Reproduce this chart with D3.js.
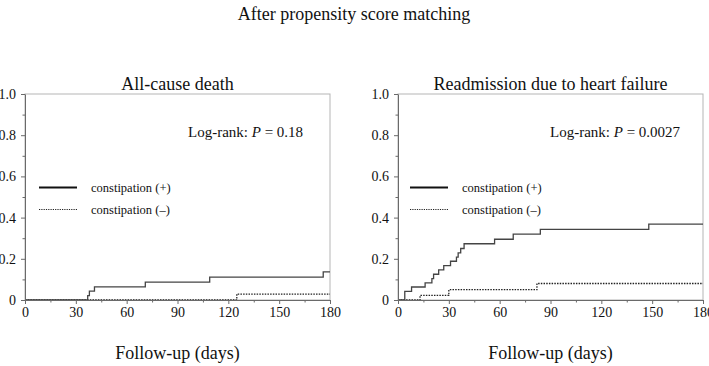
<!DOCTYPE html>
<html lang="en">
<head>
<meta charset="UTF-8">
<title>Cumulative incidence after propensity score matching</title>
<script src="https://d3js.org/d3.v7.min.js"></script>
<style>
    body { margin: 0; background: #fff; }
    svg text { font-family: "Liberation Serif", "Times New Roman", serif; fill: #111; }
    .domain-frame { fill: none; stroke: #b5b5b5; stroke-width: 1px; }
    .axis path, .axis line { stroke: #6a6a6a; }
    .axis text { font-size: 14px; font-family: "Liberation Serif", serif; fill: #111; }
</style>
</head>
<body>
<div id="chart"></div>
<script>
    // x: follow-up days, y: cumulative incidence (step functions)
    const xTicks = [0, 30, 60, 90, 120, 150, 180];
    const yTicks = [0, 0.2, 0.4, 0.6, 0.8, 1.0];

    const deathPlusDays = [0, 37, 38, 41, 71, 109, 176, 180];
    const deathPlusRisk = [0, 0.021, 0.043, 0.064, 0.087, 0.111, 0.137, 0.137];
    const deathMinusDays = [0, 125, 180];
    const deathMinusRisk = [0, 0.029, 0.029];

    const hfPlusDays = [0, 4, 8, 16, 20, 21, 24, 27, 31, 34.5, 35.5, 37, 39, 57, 68, 84, 148, 180];
    const hfPlusRisk = [0, 0.042, 0.063, 0.083, 0.104, 0.125, 0.146, 0.167, 0.188, 0.208, 0.229, 0.25, 0.273, 0.295, 0.32, 0.343, 0.368, 0.368];
    const hfMinusDays = [0, 13, 30, 82, 180];
    const hfMinusRisk = [0, 0.022, 0.05, 0.08, 0.08];

    const panels = [
        { title: "All-cause death", p: "0.18", left: 25, plus: [deathPlusDays, deathPlusRisk], minus: [deathMinusDays, deathMinusRisk], legendX: 39, pX: 188 },
        { title: "Readmission due to heart failure", p: "0.0027", left: 398, plus: [hfPlusDays, hfPlusRisk], minus: [hfMinusDays, hfMinusRisk], legendX: 410, pX: 550 }
    ];

    const width = 709;
    const height = 366;
    const plotW = 305;
    const plotTop = 94;
    const plotBottom = 300;

    const svg = d3.select("#chart")
        .append("svg")
        .attr("width", width)
        .attr("height", height);

    svg.append("text")
        .attr("x", 354)
        .attr("y", 20)
        .attr("text-anchor", "middle")
        .style("font-size", "18px")
        .text("After propensity score matching");

    const yScale = d3.scaleLinear().domain([0, 1]).range([plotBottom, plotTop]);

    panels.forEach(panel => {
        const xScale = d3.scaleLinear().domain([0, 180]).range([panel.left, panel.left + plotW]);
        const g = svg.append("g");

        g.append("text")
            .attr("x", panel.left + plotW / 2)
            .attr("y", 90)
            .attr("text-anchor", "middle")
            .style("font-size", "18px")
            .text(panel.title);

        // light frame on top / right
        g.append("rect")
            .attr("class", "domain-frame")
            .attr("x", panel.left)
            .attr("y", plotTop)
            .attr("width", plotW)
            .attr("height", plotBottom - plotTop);

        const line = d3.line()
            .x(d => xScale(d[0]))
            .y(d => yScale(d[1]))
            .curve(d3.curveStepAfter);

        g.append("path")
            .datum(panel.minus[0].map((d, i) => [d, panel.minus[1][i]]))
            .attr("fill", "none")
            .attr("stroke", "#222")
            .attr("stroke-width", 1.3)
            .attr("stroke-dasharray", "1.5,1.2")
            .attr("d", line);

        g.append("path")
            .datum(panel.plus[0].map((d, i) => [d, panel.plus[1][i]]))
            .attr("fill", "none")
            .attr("stroke", "#444")
            .attr("stroke-width", 1.3)
            .attr("d", line);

        // minor ticks
        g.append("g")
            .attr("class", "axis")
            .attr("transform", `translate(0,${plotBottom})`)
            .call(d3.axisBottom(xScale).tickValues(d3.range(15, 180, 30)).tickSize(2.5).tickFormat(""))
            .call(a => a.select(".domain").remove());
        g.append("g")
            .attr("class", "axis")
            .attr("transform", `translate(${panel.left},0)`)
            .call(d3.axisLeft(yScale).tickValues(d3.range(0.1, 1, 0.2)).tickSize(2.5).tickFormat(""))
            .call(a => a.select(".domain").remove());

        // major axes, drawn over the curves' zero baseline
        g.append("g")
            .attr("class", "axis")
            .attr("transform", `translate(0,${plotBottom})`)
            .call(d3.axisBottom(xScale).tickValues(xTicks).tickSize(4).tickPadding(3).tickSizeOuter(0))
            .attr("font-size", null).attr("font-family", null);
        g.append("g")
            .attr("class", "axis")
            .attr("transform", `translate(${panel.left},0)`)
            .call(d3.axisLeft(yScale).tickValues(yTicks).tickSize(4).tickPadding(5).tickSizeOuter(0)
                .tickFormat(d => d === 0 ? "0" : d3.format(".1f")(d)))
            .attr("font-size", null).attr("font-family", null);

        // legend
        const legend = g.append("g").attr("transform", `translate(${panel.legendX},0)`);
        legend.append("line")
            .attr("x1", 0).attr("x2", 38).attr("y1", 187.5).attr("y2", 187.5)
            .attr("stroke", "#111").attr("stroke-width", 1.8);
        legend.append("text")
            .attr("x", 52).attr("y", 192)
            .style("font-size", "12.5px")
            .text("constipation (+)");
        legend.append("line")
            .attr("x1", 0).attr("x2", 38).attr("y1", 209.5).attr("y2", 209.5)
            .attr("stroke", "#222").attr("stroke-width", 1.2).attr("stroke-dasharray", "1.2,1.1");
        legend.append("text")
            .attr("x", 52).attr("y", 214)
            .style("font-size", "12.5px")
            .text("constipation (\u2013)");

        const pText = g.append("text")
            .attr("x", panel.pX)
            .attr("y", 137)
            .style("font-size", "15px");
        pText.append("tspan").text("Log-rank: ");
        pText.append("tspan").style("font-style", "italic").text("P");
        pText.append("tspan").text(" = " + panel.p);

        g.append("text")
            .attr("x", panel.left + plotW / 2)
            .attr("y", 359)
            .attr("text-anchor", "middle")
            .style("font-size", "18px")
            .text("Follow-up (days)");
    });
</script>
</body>
</html>
